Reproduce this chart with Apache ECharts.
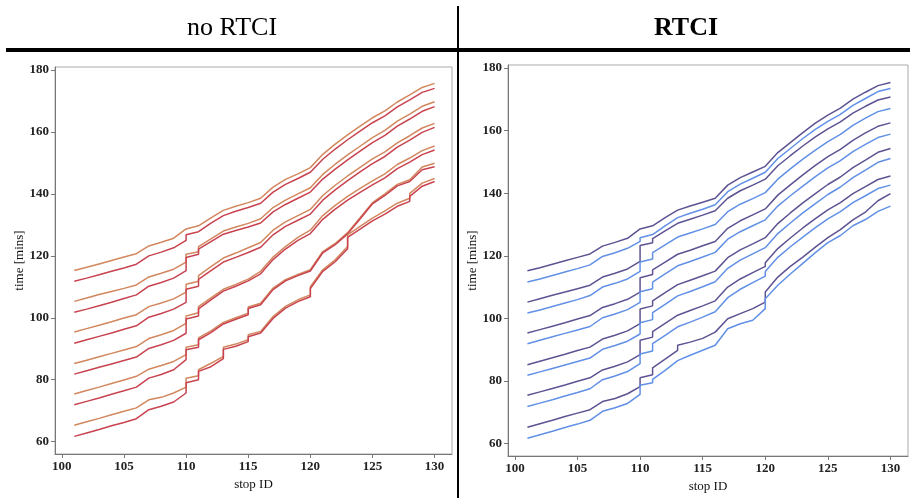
<!DOCTYPE html>
<html>
<head>
<meta charset="utf-8">
<script src="https://cdn.jsdelivr.net/npm/echarts@6/dist/echarts.min.js"></script>
<style>
html, body { margin: 0; padding: 0; background: #fff; }
#chart { width: 910px; height: 498px; }
</style>
</head>
<body>
<div id="chart"></div>
<script>
// tick labels
var stopTicks = [100, 105, 110, 115, 120, 125, 130];
var timeTicks = [60, 80, 100, 120, 140, 160, 180];
var firstStop = 101;

// time [mins] at stops 101..130; [arrive, leave] where the bus is held at the stop
// --- no RTCI ---
var noOrange1 = [115.3, 116.3, 117.4, 118.5, 119.6, 120.7, 123.2, 124.4, 125.7, 128.7, 129.7, 132.3, 134.7, 136.0, 137.2, 138.6, 142.2, 144.7, 146.5, 148.5, 152.8, 156.1, 159.1, 161.9, 164.6, 166.8, 169.7, 172.0, 174.4, 175.7];
var noRed1 = [111.8, 112.8, 113.9, 115.0, 116.1, 117.3, 120.0, 121.2, 122.6, [125.0, 126.8], 127.8, 130.6, 133.0, 134.4, 135.6, 137.0, 140.6, 143.1, 145.0, 147.0, 151.2, 154.5, 157.5, 160.3, 163.0, 165.2, 168.1, 170.4, 172.8, 174.1];
var noOrange2 = [105.3, 106.4, 107.5, 108.5, 109.5, 110.6, 113.2, 114.4, 115.7, [118.0, 120.5], [121.3, 123.0], 125.5, 128.0, 129.3, 130.5, 132.0, 135.6, 138.0, 140.0, 142.0, 146.3, 149.6, 152.6, 155.4, 158.2, 160.5, 163.5, 165.8, 168.3, 169.8];
var noRed2 = [101.8, 102.8, 103.9, 105.0, 106.2, 107.4, 110.2, 111.4, 112.8, [115.2, 119.5], [120.5, 122.2], 124.6, 127.0, 128.2, 129.3, 130.6, 134.2, 136.6, 138.6, 140.6, 144.8, 148.0, 151.0, 153.8, 156.6, 158.9, 161.9, 164.2, 166.7, 168.2];
var noOrange3 = [95.4, 96.5, 97.6, 98.7, 99.9, 101.0, 103.6, 104.8, 106.1, [108.3, 110.8], [111.8, 113.6], 116.5, 119.3, 120.9, 122.6, 124.3, 128.3, 131.0, 133.0, 135.0, 139.5, 142.8, 145.8, 148.6, 151.3, 153.6, 156.5, 158.8, 161.3, 162.8];
var noRed3 = [91.8, 92.9, 94.0, 95.1, 96.3, 97.4, 100.2, 101.4, 102.8, [105.0, 109.2], [110.2, 112.4], 115.2, 118.0, 119.5, 121.1, 122.8, 126.8, 129.5, 131.5, 133.5, 138.0, 141.3, 144.3, 147.1, 149.8, 152.1, 155.1, 157.4, 159.9, 161.5];
var noOrange4 = [85.2, 86.3, 87.4, 88.5, 89.6, 90.7, 93.3, 94.5, 95.9, [98.2, 100.6], [101.6, 103.6], 106.4, 109.2, 110.8, 112.5, 115.0, 119.6, 123.0, 126.0, 128.3, 133.0, 136.3, 139.2, 141.8, 144.2, 146.5, 149.5, 151.6, 154.0, 155.5];
var noRed4 = [81.8, 82.9, 84.0, 85.1, 86.2, 87.3, 90.1, 91.3, 92.7, [95.0, 99.6], [100.6, 102.9], 105.8, 108.6, 110.2, 111.9, 114.2, 118.8, 122.2, 125.0, 127.2, 131.8, 135.1, 138.0, 140.5, 142.9, 145.2, 148.2, 150.3, 152.7, 154.2];
var noOrange5 = [75.4, 76.5, 77.6, 78.8, 79.9, 81.1, 83.4, 84.6, 85.9, [88.1, 90.5], [91.3, 93.5], 95.8, 98.5, 100.0, [101.5, 103.5], 104.7, 109.6, 112.3, 114.0, 115.5, 121.4, 124.0, 127.5, 132.3, 137.2, 140.0, 143.1, 144.6, 148.7, 149.9];
var noRed5 = [71.9, 73.0, 74.1, 75.3, 76.4, 77.6, 80.5, 81.7, 83.2, [86.5, 89.7], [90.5, 92.9], 95.2, 98.0, 99.5, [101.0, 103.0], 104.2, 109.1, 111.9, 113.6, 115.1, 121.0, 123.6, 127.1, 131.9, 136.8, 139.5, 142.6, 144.0, 147.8, 148.8];
var noOrange6 = [65.3, 66.4, 67.5, 68.7, 69.8, 70.9, 73.5, 74.3, 75.7, [77.6, 80.5], [81.3, 83.2], 85.3, [87.5, 90.5], 91.5, [92.9, 94.5], 95.6, 100.4, 103.7, 105.8, [107.4, 110.0], 115.5, 118.7, [123.0, 126.8], 129.5, 132.2, 134.5, 137.0, [138.6, 140.2], 143.5, 145.0];
var noRed6 = [61.7, 62.8, 63.9, 65.1, 66.2, 67.4, 70.3, 71.4, 72.8, [75.7, 79.0], [80.0, 82.7], 84.2, [86.8, 89.8], 90.8, [92.3, 93.9], 95.1, 99.8, 103.1, 105.2, [106.8, 109.4], 115.0, 118.1, [122.3, 126.0], 128.6, 131.3, 133.5, 136.0, [137.6, 139.2], 142.5, 144.0];

// --- RTCI ---
var rtciPurple1 = [115.2, 116.2, 117.3, 118.4, 119.5, 120.6, 123.1, 124.3, 125.6, 128.6, 129.6, 132.2, 134.6, 135.9, 137.1, 138.4, 142.6, 145.0, 146.8, 148.6, 153.0, 156.2, 159.4, 162.4, 165.0, 167.2, 170.1, 172.3, 174.4, 175.4];
var rtciBlue1 = [111.6, 112.6, 113.7, 114.8, 115.9, 117.1, 119.8, 121.0, 122.4, [124.6, 125.8], 126.8, 129.6, 132.2, 133.6, 134.9, 136.3, 140.5, 142.9, 144.8, 146.7, 151.1, 154.3, 157.5, 160.4, 163.0, 165.2, 168.1, 170.3, 172.5, 173.5];
var rtciPurple2 = [105.2, 106.3, 107.4, 108.4, 109.5, 110.6, 113.2, 114.4, 115.8, [118.2, 123.3], [124.2, 125.5], 128.0, 130.4, 131.7, 133.0, 134.4, 138.4, 140.8, 142.6, 144.5, 148.8, 152.0, 155.1, 158.0, 160.6, 162.8, 165.6, 167.8, 169.8, 170.8];
var rtciBlue2 = [101.7, 102.7, 103.8, 104.9, 106.0, 107.3, 110.0, 111.2, 112.6, [115.0, 118.0], [119.0, 121.0], 123.5, 126.0, 127.3, 128.6, 130.0, 134.1, 136.5, 138.3, 140.2, 144.5, 147.8, 150.9, 153.8, 156.5, 158.8, 161.7, 164.0, 166.1, 167.1];
var rtciPurple3 = [95.3, 96.4, 97.5, 98.6, 99.8, 100.9, 103.5, 104.7, 106.1, [108.4, 113.0], [114.0, 115.5], 118.0, 120.5, 121.8, 123.2, 124.6, 128.8, 131.2, 133.1, 135.0, 139.4, 142.7, 145.9, 148.9, 151.7, 154.0, 156.9, 159.3, 161.4, 162.5];
var rtciBlue3 = [91.9, 93.0, 94.1, 95.2, 96.3, 97.4, 100.2, 101.4, 102.8, [105.1, 108.5], [109.5, 111.6], 114.2, 116.8, 118.2, 119.6, 121.1, 125.3, 127.7, 129.6, 131.5, 135.9, 139.2, 142.3, 145.3, 148.1, 150.4, 153.3, 155.6, 157.8, 158.9];
var rtciPurple4 = [85.2, 86.3, 87.4, 88.5, 89.7, 90.8, 93.4, 94.6, 96.0, [98.3, 103.0], [104.0, 105.6], 108.2, 110.8, 112.2, 113.6, 115.1, 119.4, 121.9, 123.8, 125.8, 130.3, 133.7, 136.9, 139.9, 142.8, 145.2, 148.2, 150.6, 153.1, 154.3];
var rtciBlue4 = [81.8, 82.9, 84.0, 85.1, 86.2, 87.3, 90.1, 91.3, 92.7, [95.0, 98.6], [99.6, 101.8], 104.5, 107.2, 108.6, 110.1, 111.7, 116.0, 118.6, 120.6, 122.6, 127.1, 130.5, 133.7, 136.7, 139.6, 142.0, 145.0, 147.4, 149.9, 151.1];
var rtciPurple5 = [75.4, 76.5, 77.6, 78.7, 79.9, 81.0, 83.5, 84.7, 86.1, [88.4, 93.0], [94.0, 95.8], 98.4, 101.0, 102.5, 104.0, 105.6, 110.0, 112.6, 114.6, [116.6, 117.8], 122.3, 125.7, 128.9, 131.9, 134.7, 137.0, 139.9, 142.1, 144.4, 145.5];
var rtciBlue5 = [71.8, 72.9, 74.0, 75.2, 76.3, 77.5, 80.4, 81.6, 83.0, [85.5, 88.6], [89.6, 91.9], 94.6, 97.3, 98.8, 100.4, 102.1, 106.6, 109.3, 111.4, [113.5, 115.0], 119.5, 122.9, 126.0, 129.0, 131.8, 134.1, 137.0, 139.2, 141.5, 142.6];
var rtciPurple6 = [65.2, 66.3, 67.4, 68.6, 69.7, 70.8, 73.4, 74.4, 75.9, [78.2, 81.0], [82.0, 84.2], 87.0, [89.8, 91.4], 92.4, 93.6, 95.6, 99.9, 101.5, 103.1, [105.2, 108.4], 113.2, 116.6, 119.6, 122.8, 125.8, 128.4, 131.5, 134.0, 137.6, 139.9];
var rtciBlue6 = [61.7, 62.8, 63.9, 65.1, 66.2, 67.4, 70.3, 71.4, 72.8, [75.7, 78.6], [79.4, 80.5], 83.4, [86.5, 87.1], 88.2, 89.8, 91.4, 96.7, 98.3, 99.4, [103.1, 106.3], 110.6, 114.2, 117.6, 121.0, 124.2, 126.5, 129.6, 131.6, 134.2, 135.9];

var ORANGE = '#d2875e', RED = '#c8434f', PURPLE = '#5d5392', BLUE = '#6190e6';
var FONT = '"Liberation Serif", "DejaVu Serif", serif';

function toPoints(times) {
	var pts = [];
	for (var i = 0; i < times.length; i++) {
		var stop = firstStop + i;
		if (Array.isArray(times[i])) {
			pts.push([stop, times[i][0]]);
			pts.push([stop, times[i][1]]);
		} else {
			pts.push([stop, times[i]]);
		}
	}
	return pts;
}

function lineSeries(times, color, idx) {
	return {
		type: 'line',
		xAxisIndex: idx,
		yAxisIndex: idx,
		data: toPoints(times),
		showSymbol: false,
		symbol: 'none',
		silent: true,
		lineStyle: { color: color, width: 1.5 },
		z: 3
	};
}

function xAxisFor(idx) {
	return {
		type: 'value',
		gridIndex: idx,
		min: 99.45,
		max: 131.4,
		name: 'stop ID',
		nameLocation: 'middle',
		nameGap: 19,
		nameTextStyle: { fontFamily: FONT, fontSize: 13, color: '#111' },
		axisLine: { lineStyle: { color: '#777', width: 1 } },
		axisTick: { show: true, length: 4, customValues: stopTicks, lineStyle: { color: '#777' } },
		axisLabel: { customValues: stopTicks, fontFamily: FONT, fontSize: 13, fontWeight: 'bold', color: '#222', margin: 6 },
		splitLine: { show: false }
	};
}

function yAxisFor(idx, gap) {
	return {
		type: 'value',
		gridIndex: idx,
		min: 56,
		max: 181,
		name: 'time [mins]',
		nameLocation: 'middle',
		nameGap: gap,
		nameTextStyle: { fontFamily: FONT, fontSize: 13, color: '#111' },
		axisLine: { lineStyle: { color: '#777', width: 1 } },
		axisTick: { show: true, length: 4, customValues: timeTicks, lineStyle: { color: '#777' } },
		axisLabel: { customValues: timeTicks, fontFamily: FONT, fontSize: 13, fontWeight: 'bold', color: '#222', margin: 6 },
		splitLine: { show: false }
	};
}

var myChart = echarts.init(document.getElementById('chart'), null, { renderer: 'canvas' });

var noRtciLines = [
	[noOrange1, ORANGE], [noRed1, RED], [noOrange2, ORANGE], [noRed2, RED],
	[noOrange3, ORANGE], [noRed3, RED], [noOrange4, ORANGE], [noRed4, RED],
	[noOrange5, ORANGE], [noRed5, RED], [noOrange6, ORANGE], [noRed6, RED]
];
var rtciLines = [
	[rtciPurple1, PURPLE], [rtciBlue1, BLUE], [rtciPurple2, PURPLE], [rtciBlue2, BLUE],
	[rtciPurple3, PURPLE], [rtciBlue3, BLUE], [rtciPurple4, PURPLE], [rtciBlue4, BLUE],
	[rtciPurple5, PURPLE], [rtciBlue5, BLUE], [rtciPurple6, PURPLE], [rtciBlue6, BLUE]
];

var series = [];
noRtciLines.forEach(function (l) { series.push(lineSeries(l[0], l[1], 0)); });
rtciLines.forEach(function (l) { series.push(lineSeries(l[0], l[1], 1)); });

var option = {
	animation: false,
	backgroundColor: '#fff',
	grid: [
		{ left: 55, top: 67, width: 397, height: 387, show: true, borderColor: '#aaa', borderWidth: 1, backgroundColor: 'transparent' },
		{ left: 508, top: 65, width: 400, height: 391, show: true, borderColor: '#aaa', borderWidth: 1, backgroundColor: 'transparent' }
	],
	xAxis: [xAxisFor(0), xAxisFor(1)],
	yAxis: [yAxisFor(0, 24), yAxisFor(1, 29)],
	graphic: [
		{ type: 'text', style: { x: 232, y: 28, text: 'no RTCI', font: '26px ' + FONT, fill: '#000', align: 'center', verticalAlign: 'middle' } },
		{ type: 'text', style: { x: 686, y: 28, text: 'RTCI', font: 'bold 26px ' + FONT, fill: '#000', align: 'center', verticalAlign: 'middle' } },
		{ type: 'rect', shape: { x: 6, y: 48, width: 904, height: 4 }, style: { fill: '#000' } },
		{ type: 'rect', shape: { x: 457, y: 6, width: 2, height: 492 }, style: { fill: '#000' } }
	],
	series: series
};
myChart.setOption(option, true);
</script>
</body>
</html>
